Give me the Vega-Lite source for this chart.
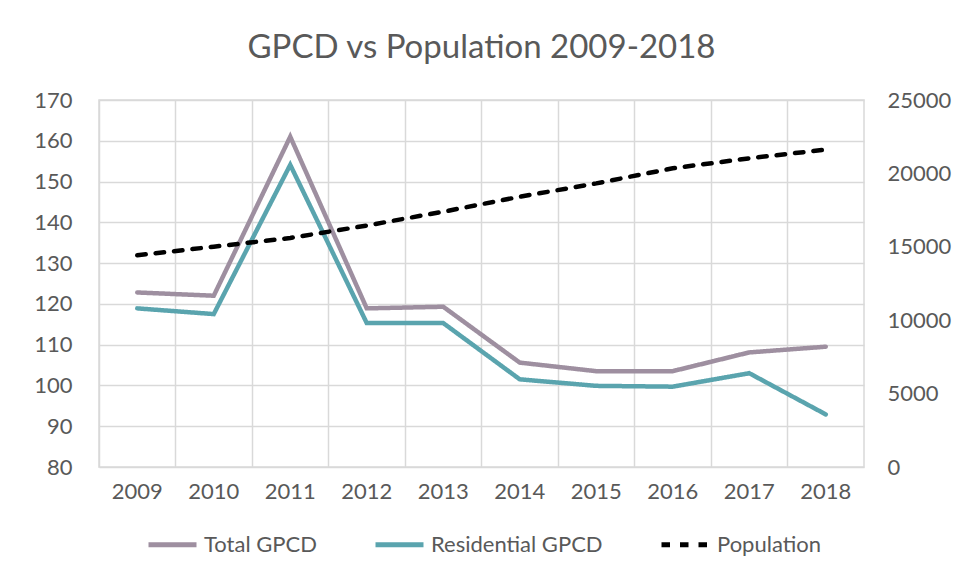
{
  "$schema": "https://vega.github.io/schema/vega-lite/v6.json",
  "autosize": "none",
  "width": 765,
  "height": 367,
  "padding": {"left": 99, "top": 100, "right": 95, "bottom": 112},
  "background": "white",
  "title": {"text": "GPCD vs Population 2009-2018", "fontSize": 33, "font": "Lato", "fontWeight": "normal", "color": "#595959", "offset": 24, "anchor": "middle"},
  "config": {
    "view": {"stroke": "#d9d9d9", "strokeWidth": 1.5},
    "axis": {"labelFont": "Lato", "labelFontSize": 22, "labelColor": "#595959", "gridColor": "#d9d9d9", "gridWidth": 1.5, "ticks": false, "domain": false, "title": null}
  },
  "data": {"values": [
    {"year": "2009", "series": "Total GPCD", "value": 122.8},
    {"year": "2010", "series": "Total GPCD", "value": 122.0},
    {"year": "2011", "series": "Total GPCD", "value": 161.0},
    {"year": "2012", "series": "Total GPCD", "value": 118.9},
    {"year": "2013", "series": "Total GPCD", "value": 119.3},
    {"year": "2014", "series": "Total GPCD", "value": 105.6},
    {"year": "2015", "series": "Total GPCD", "value": 103.5},
    {"year": "2016", "series": "Total GPCD", "value": 103.5},
    {"year": "2017", "series": "Total GPCD", "value": 108.1},
    {"year": "2018", "series": "Total GPCD", "value": 109.5},
    {"year": "2009", "series": "Residential GPCD", "value": 118.9},
    {"year": "2010", "series": "Residential GPCD", "value": 117.5},
    {"year": "2011", "series": "Residential GPCD", "value": 154.1},
    {"year": "2012", "series": "Residential GPCD", "value": 115.3},
    {"year": "2013", "series": "Residential GPCD", "value": 115.3},
    {"year": "2014", "series": "Residential GPCD", "value": 101.5},
    {"year": "2015", "series": "Residential GPCD", "value": 99.9},
    {"year": "2016", "series": "Residential GPCD", "value": 99.7},
    {"year": "2017", "series": "Residential GPCD", "value": 103.0},
    {"year": "2018", "series": "Residential GPCD", "value": 92.9},
    {"year": "2009", "series": "Population", "value": 14420},
    {"year": "2010", "series": "Population", "value": 15010},
    {"year": "2011", "series": "Population", "value": 15600},
    {"year": "2012", "series": "Population", "value": 16450},
    {"year": "2013", "series": "Population", "value": 17390},
    {"year": "2014", "series": "Population", "value": 18410},
    {"year": "2015", "series": "Population", "value": 19320},
    {"year": "2016", "series": "Population", "value": 20350},
    {"year": "2017", "series": "Population", "value": 21030},
    {"year": "2018", "series": "Population", "value": 21620}
  ]},
  "encoding": {
    "x": {"field": "year", "type": "ordinal", "scale": {"type": "band", "paddingInner": 0, "paddingOuter": 0},
      "axis": {"labelAngle": 0, "bandPosition": 0, "grid": true, "labelPadding": 14}},
    "color": {"field": "series", "type": "nominal",
      "scale": {"domain": ["Total GPCD", "Residential GPCD", "Population"], "range": ["#9E8FA0", "#5AA4AE", "#000000"]},
      "legend": {"orient": "none", "legendX": 47, "legendY": 418, "direction": "horizontal", "title": null, "symbolType": "stroke", "symbolSize": 2304, "symbolStrokeWidth": 5, "labelFont": "Lato", "labelFontSize": 22, "labelColor": "#595959", "labelLimit": 400, "columnPadding": 48, "labelOffset": 5}},
    "strokeDash": {"field": "series", "type": "nominal",
      "scale": {"domain": ["Total GPCD", "Residential GPCD", "Population"], "range": [[1, 0], [1, 0], [8.5, 10]]},
      "legend": {"orient": "none", "legendX": 47, "legendY": 418, "direction": "horizontal", "title": null, "symbolType": "stroke", "symbolSize": 2304, "symbolStrokeWidth": 5, "labelFont": "Lato", "labelFontSize": 22, "labelColor": "#595959", "labelLimit": 400, "columnPadding": 48, "labelOffset": 5}}
  },
  "layer": [
    {
      "transform": [{"filter": "datum.series !== 'Population'"}],
      "mark": {"type": "line", "strokeWidth": 4.5, "strokeJoin": "miter", "strokeCap": "round"},
      "encoding": {
        "y": {"field": "value", "type": "quantitative", "scale": {"domain": [80, 170], "nice": false, "zero": false},
          "axis": {"values": [80, 90, 100, 110, 120, 130, 140, 150, 160, 170], "grid": true, "labelPadding": 27, "orient": "left"}}
      }
    },
    {
      "transform": [{"filter": "datum.series === 'Population'"}],
      "mark": {"type": "line", "strokeWidth": 4.5, "strokeCap": "round"},
      "encoding": {
        "y": {"field": "value", "type": "quantitative", "scale": {"domain": [0, 25000], "nice": false},
          "axis": {"values": [0, 5000, 10000, 15000, 20000, 25000], "format": "d", "grid": false, "orient": "right", "labelPadding": 23}}
      }
    }
  ],
  "resolve": {"scale": {"y": "independent"}}
}
